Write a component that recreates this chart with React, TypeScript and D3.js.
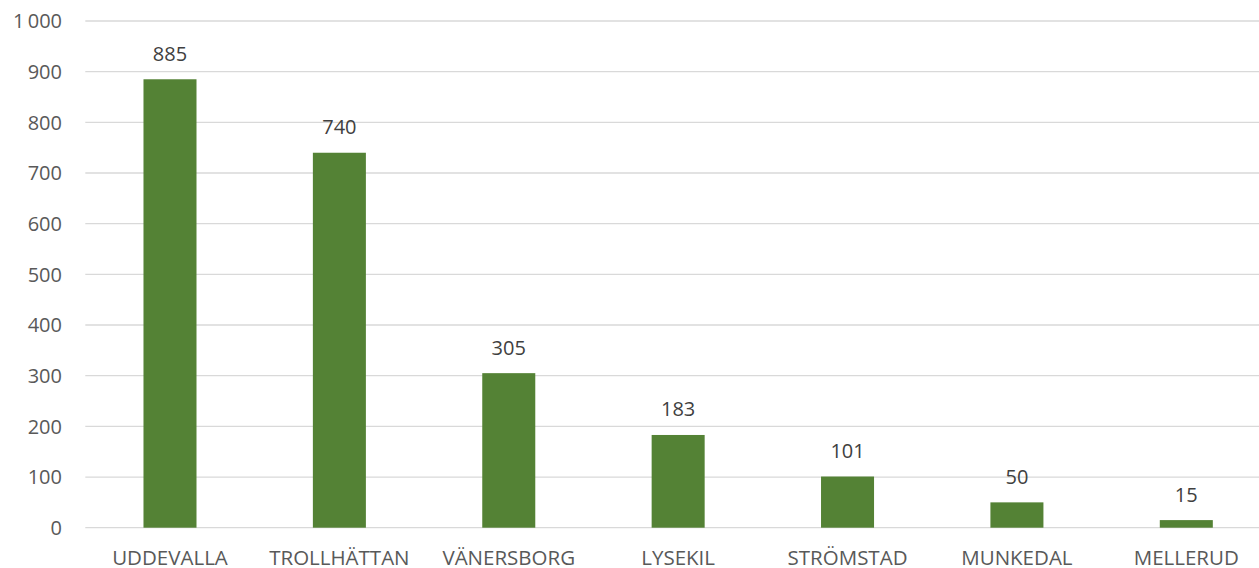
import React from "react";
import * as d3 from "d3";

const categories = ["UDDEVALLA", "TROLLHÄTTAN", "VÄNERSBORG", "LYSEKIL", "STRÖMSTAD", "MUNKEDAL", "MELLERUD"];
const values = [885, 740, 305, 183, 101, 50, 15];
const yTicks = [0, 100, 200, 300, 400, 500, 600, 700, 800, 900, 1000];

const W = 1259;
const H = 568;
const left = 85.3;
const right = 1271;
const top = 21;
const bottom = 527.7;
const FONT = "'Open Sans', 'Liberation Sans', sans-serif";

const fmt = (v: number) => d3.format(",")(v).replace(/,/g, "\u2009");

export default function App() {
  const x = d3.scaleBand<string>().domain(categories).range([left, right]).padding(0);
  const y = d3.scaleLinear().domain([0, 1000]).range([bottom, top]);
  const bw = x.bandwidth() * 0.313;
  return (
    <svg width={W} height={H} style={{ position: "absolute", left: 0, top: 0 }} fontFamily={FONT}>
      <rect x={0} y={0} width={W} height={H} fill="#ffffff" />
      {yTicks.map((t) => (
        <g key={t}>
          <line x1={left} x2={W} y1={y(t)} y2={y(t)} stroke="#d9d9d9" strokeWidth={1.3} />
          <text x={62} y={y(t)} dy="0.36em" textAnchor="end" fontSize={20} fill="#595959">
            {fmt(t)}
          </text>
        </g>
      ))}
      {categories.map((c, i) => {
        const cx = (x(c) as number) + x.bandwidth() / 2;
        return (
          <g key={c}>
            <rect x={cx - bw / 2} y={y(values[i])} width={bw} height={bottom - y(values[i])} fill="#548235" />
            <text x={cx} y={y(values[i]) - 18.5} textAnchor="middle" fontSize={20} fill="#404040">
              {values[i]}
            </text>
            <text x={cx} y={564.5} textAnchor="middle" fontSize={20.5} fill="#595959">
              {c}
            </text>
          </g>
        );
      })}
    </svg>
  );
}
